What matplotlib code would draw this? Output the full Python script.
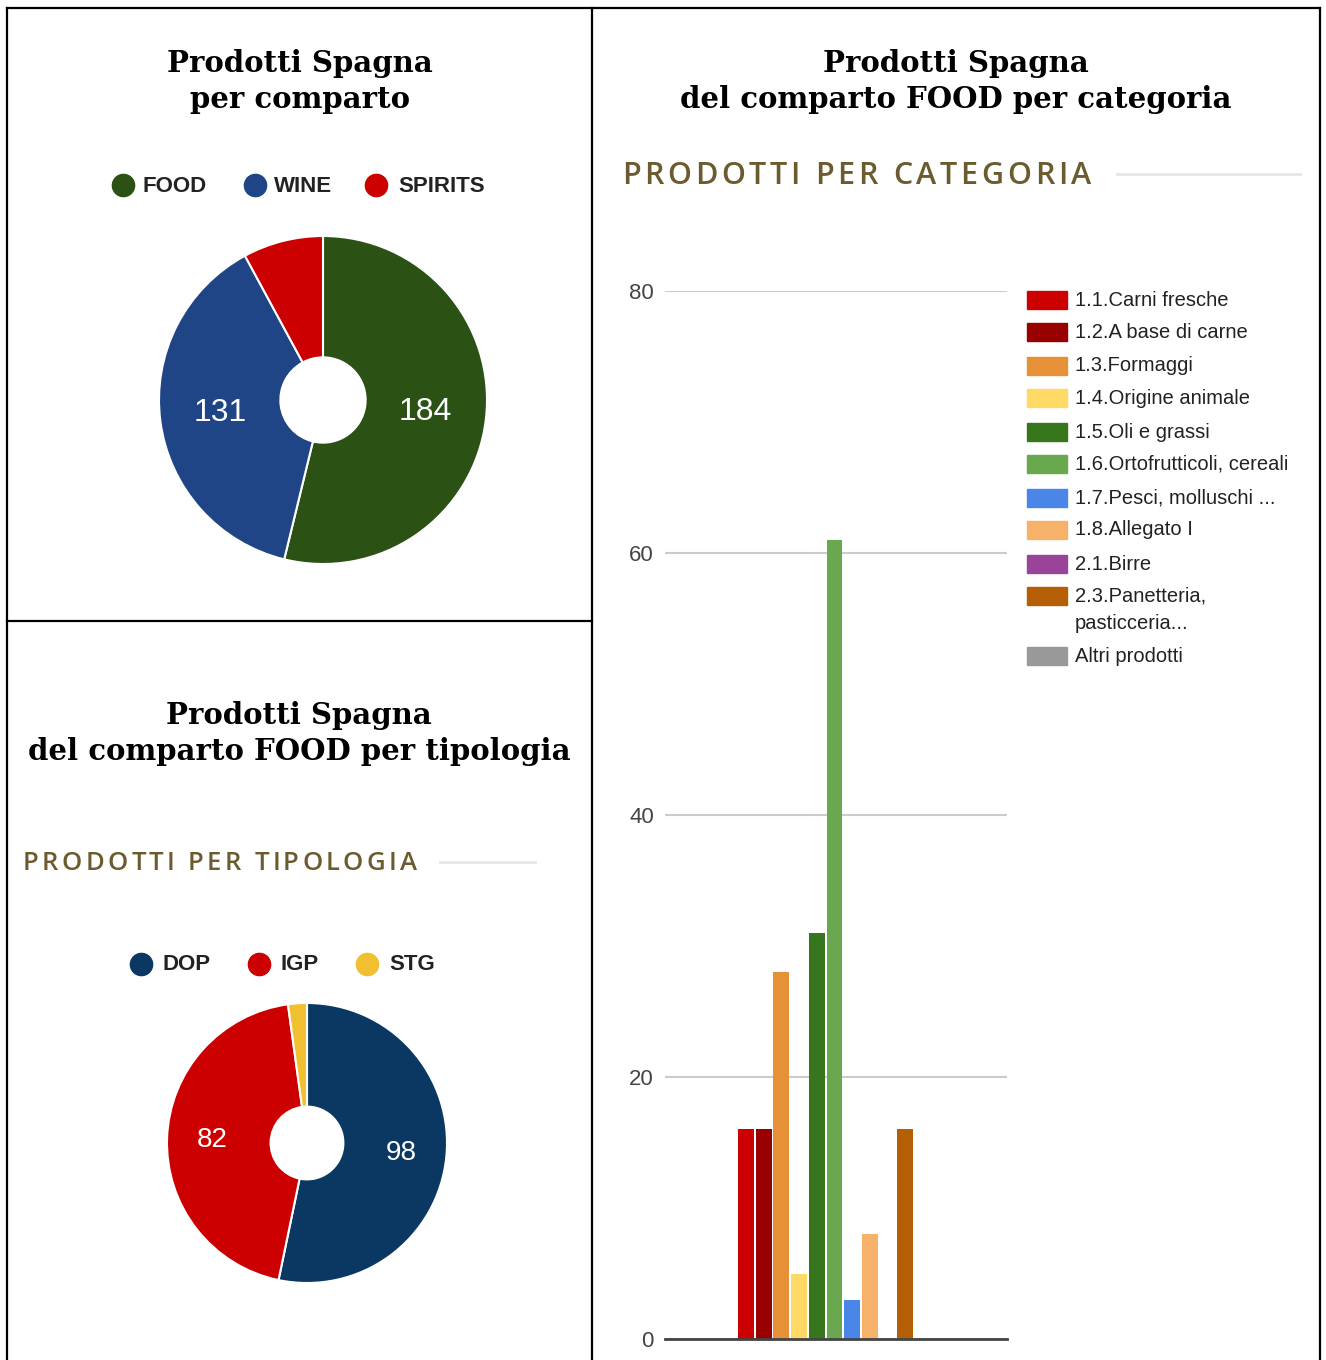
import numpy as np
import matplotlib
matplotlib.use("Agg")
import matplotlib.pyplot as plt
from matplotlib.lines import Line2D
from matplotlib.patches import Rectangle

# --- data ---
comparto_labels = ["FOOD", "WINE", "SPIRITS"]
comparto_values = [184, 131, 27]
comparto_colors = ["#2b5115", "#1f4586", "#cc0000"]

tipologia_labels = ["DOP", "IGP", "STG"]
tipologia_values = [98, 82, 4]
tipologia_colors = ["#0a3862", "#cc0000", "#f0c030"]

categorie = ["1.1.Carni fresche", "1.2.A base di carne", "1.3.Formaggi",
             "1.4.Origine animale", "1.5.Oli e grassi", "1.6.Ortofrutticoli, cereali",
             "1.7.Pesci, molluschi ...", "1.8.Allegato I", "2.1.Birre",
             "2.3.Panetteria,\npasticceria...", "Altri prodotti"]
categorie_values = [16, 16, 28, 5, 31, 61, 3, 8, 0, 16, 0]
categorie_colors = ["#cc0000", "#990000", "#e69138", "#ffd966", "#38761d", "#6aa84f",
                    "#4a86e8", "#f6b26b", "#994499", "#b45f06", "#999999"]
y_ticks = [0, 20, 40, 60, 80]

W, H = 1326, 1360
fig = plt.figure(figsize=(W / 100, H / 100), dpi=100)


def fx(x):
    return x / W


def fy(y):
    return 1 - y / H


def fline(x0, y0, x1, y1, color="black", lw=1.6):
    fig.add_artist(Line2D([fx(x0), fx(x1)], [fy(y0), fy(y1)], color=color, lw=lw,
                          transform=fig.transFigure))


# panel borders
fline(7, 8, 1320, 8)
fline(7, 8, 7, 1360)
fline(1320, 8, 1320, 1360)
fline(592, 8, 592, 1360)
fline(7, 621, 592, 621)

serif = ["DejaVu Serif"]
sans = ["Liberation Sans", "DejaVu Sans"]


def title(lines, cx, ys, size=21):
    for txt, y in zip(lines, ys):
        fig.text(fx(cx), fy(y), txt, ha="center", va="center", fontsize=size,
                 fontweight="bold", family=serif, color="black")


title(["Prodotti Spagna", "per comparto"], 300, [63, 100])
title(["Prodotti Spagna", "del comparto FOOD per categoria"], 956, [63, 100])
title(["Prodotti Spagna", "del comparto FOOD per tipologia"], 299, [716, 752])

fig.canvas.draw()
renderer = fig.canvas.get_renderer()


def spaced_header(txt, x0, y, size, width):
    # letter-spaced header, stretched to the target width
    fam = ["Open Sans", "DejaVu Sans"]
    widths = []
    for ch in txt:
        if ch == " ":
            widths.append(size * 1.389 * 0.26)
        else:
            t = fig.text(0, 0, ch, fontsize=size, family=fam)
            widths.append(t.get_window_extent(renderer).width)
            t.remove()
    gap = (width - sum(widths)) / (len(txt) - 1)
    x = x0
    for ch, w in zip(txt, widths):
        if ch != " ":
            fig.text(fx(x), fy(y), ch, fontsize=size, family=fam, color="#6b5b2e",
                     ha="left", va="center_baseline", fontweight="semibold")
        x += w + gap


spaced_header("PRODOTTI PER CATEGORIA", 622, 172, 22, 468)
fline(1117, 174, 1300, 174, color="#e6e6e6", lw=2)
spaced_header("PRODOTTI PER TIPOLOGIA", 23, 861, 18.5, 393)
fline(440, 862, 535, 862, color="#e6e6e6", lw=2)


def donut(values, colors, cx, cy, r, label_size, label_r):
    ax = fig.add_axes([fx(cx - r), fy(cy + r), 2 * r / W, 2 * r / H])
    wedges, _ = ax.pie(values, colors=colors, startangle=90, counterclock=False,
                       radius=1, wedgeprops=dict(width=0.74, edgecolor="white", linewidth=1.5))
    total = sum(values)
    for w, v in zip(wedges, values):
        if v / total < 0.1:
            continue
        mid = np.deg2rad((w.theta1 + w.theta2) / 2)
        ax.text(label_r * np.cos(mid), label_r * np.sin(mid), str(v), color="white",
                ha="center", va="center", fontsize=label_size, family=sans)
    ax.set_xlim(-1, 1)
    ax.set_ylim(-1, 1)
    ax.axis("off")
    return ax


def pie_legend(labels, colors, xs_dot, xs_txt, y):
    for lab, c, xd, xt in zip(labels, colors, xs_dot, xs_txt):
        fig.add_artist(Line2D([fx(xd)], [fy(y)], marker="o", markersize=16, color=c,
                              linestyle="none", transform=fig.transFigure))
        fig.text(fx(xt), fy(y + 1), lab, ha="left", va="center", fontsize=16,
                 family=sans, color="#222222", fontweight="bold")


donut(comparto_values, comparto_colors, 323, 400, 164, 23, 0.63)
pie_legend(comparto_labels, comparto_colors, [123, 255, 376], [142, 274, 398], 185)

donut(tipologia_values, tipologia_colors, 307, 1143, 140, 20, 0.68)
pie_legend(tipologia_labels, tipologia_colors, [141, 259, 367], [162, 281, 389], 964)

# --- column chart ---
ax = fig.add_axes([fx(665), fy(1339), 342 / W, 1048 / H])
pos = np.arange(len(categorie_values)) - 5
ax.bar(pos, categorie_values, width=0.9, color=categorie_colors, zorder=2)
ax.set_xlim(-9.58, 9.75)
ax.set_ylim(0, 80)
ax.set_yticks(y_ticks)
ax.set_xticks([])
ax.yaxis.grid(True, color="#cccccc", lw=1.5, zorder=0)
ax.set_axisbelow(True)
for s in ["top", "right", "left"]:
    ax.spines[s].set_visible(False)
ax.spines["bottom"].set_color("#444444")
ax.spines["bottom"].set_linewidth(2)
ax.spines["bottom"].set_zorder(3)
ax.tick_params(axis="y", length=0, pad=8, labelsize=16, labelcolor="#444444")
for lab in ax.get_yticklabels():
    lab.set_family(sans)

legend_y = [300, 332, 366, 398, 432, 464, 498, 530, 564, 596, 656]
for name, c, y in zip(categorie, categorie_colors, legend_y):
    fig.add_artist(Rectangle((fx(1027), fy(y + 9)), 40 / W, 18 / H, color=c,
                             transform=fig.transFigure))
    for k, part in enumerate(name.split("\n")):
        fig.text(fx(1075), fy(y + 28 * k), part, ha="left", va="center",
                 fontsize=14.5, family=sans, color="#222222")

fig.savefig("out.png", dpi=100)
